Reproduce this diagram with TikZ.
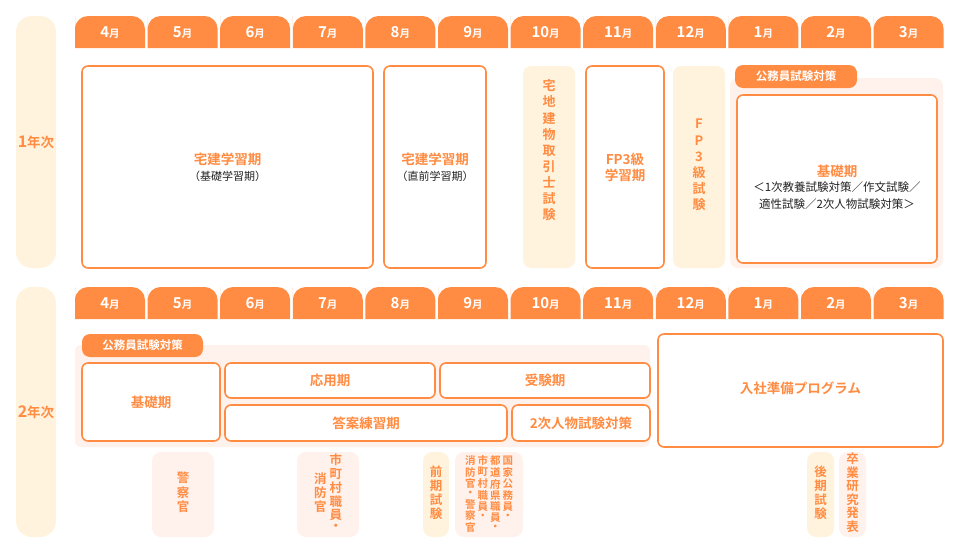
\documentclass[tikz,border=0pt]{standalone}
\usepackage{fontspec}
\setmainfont{Noto Sans CJK JP}[BoldFont={* Bold}]
\newfontfamily\jb{Noto Sans CJK JP Bold}
\definecolor{org}{HTML}{FF8C42}
\definecolor{pinkbg}{HTML}{FFF1EB}
\definecolor{yelbg}{HTML}{FFF3DD}
\definecolor{txt}{HTML}{222222}
\newcommand\vc[1]{\begin{tabular}[t]{@{}c@{}}#1\end{tabular}}
\newcommand\vcc[1]{\begin{tabular}[c]{@{}c@{}}#1\end{tabular}}
\newcommand\mon[1]{{\fontsize{15}{15}\selectfont #1}{\fontsize{10.5}{10.5}\selectfont 月}}
\tikzset{
  x=1pt,y=-1pt,
  box/.style={draw=org,line width=1.6pt,fill=white,rounded corners=6pt},
  ttl/.style={text=org,font=\jb\fontsize{13.5}{16}\selectfont,align=center},
  sub/.style={text=txt,font=\fontsize{11}{13}\selectfont,align=center},
  vt/.style={text=org,font=\jb\fontsize{13}{14}\selectfont,inner sep=0pt},
  mtxt/.style={text=white,font=\jb},
}
\begin{document}
\begin{tikzpicture}
\useasboundingbox (0,0) rectangle (961,554);
% year pills
\fill[yelbg,rounded corners=16pt] (16,16) rectangle (56,268);
\node[ttl] (y1) at (36,142) {{\fontsize{16}{16}\selectfont 1}年次};
\fill[yelbg,rounded corners=16pt] (16,287) rectangle (56,537);
\node[ttl] (y2) at (36,412) {{\fontsize{16}{16}\selectfont 2}年次};
% month tabs
\foreach \m [count=\i from 0] in {4,5,6,7,8,9,10,11,12,1,2,3}{
  \pgfmathsetmacro\xa{75+72.6*\i}
  \pgfmathsetmacro\xb{\xa+70}
  \fill[org] (\xa,16) [rounded corners=13pt] -- (\xa,34) |- (\xb,16) [sharp corners] |- (\xa,48) -- cycle;
  \fill[org] (\xa,287) [rounded corners=13pt] -- (\xa,305) |- (\xb,287) [sharp corners] |- (\xa,319) -- cycle;
  \node[mtxt] (ma\i) at ({\xa+35},32.5) {\mon{\m}};
  \node[mtxt] (mb\i) at ({\xa+35},303.5) {\mon{\m}};
}
% row 1
\draw[box] (82,66) rectangle (373,268);
\node[ttl] (t1) at (227.5,159) {宅建学習期};
\node[sub] (t1s) at (227.5,176) {（基礎学習期）};
\draw[box] (384,66) rectangle (486,268);
\node[ttl] (t2) at (435,159) {宅建学習期};
\node[sub] (t2s) at (435,176) {（直前学習期）};
\fill[yelbg,rounded corners=8pt] (523,66) rectangle (575,268);
\node[vt] (tk) at (549,152) {\renewcommand\arraystretch{1.15}\vcc{宅\\地\\建\\物\\取\\引\\士\\試\\験}};
\draw[box] (586,66) rectangle (664,268);
\node[ttl] (fp) at (625,167) {FP3級\\学習期};
\fill[yelbg,rounded corners=8pt] (673,66) rectangle (725,268);
\node[vt] (fpx) at (699,166) {\renewcommand\arraystretch{1.15}\vcc{F\\P\\3\\級\\試\\験}};
\fill[pinkbg,rounded corners=8pt] (730,78) rectangle (943,268);
\fill[org,rounded corners=8pt] (735,65) rectangle (857,88);
\node[mtxt,font=\jb\fontsize{11.5}{13}\selectfont] (k1) at (796,76.5) {公務員試験対策};
\draw[box] (737,95) rectangle (937,263);
\node[ttl] (kk) at (837,171) {基礎期};
\node[sub,font=\fontsize{11.5}{17}\selectfont] (kks) at (837,196) {＜1次教養試験対策／作文試験／\\適性試験／2次人物試験対策＞};
% row 2
\fill[pinkbg,rounded corners=6pt] (75,345) rectangle (650,447);
\fill[org,rounded corners=8pt] (82,334) rectangle (203,357);
\node[mtxt,font=\jb\fontsize{11.5}{13}\selectfont] (k2) at (142.5,345.5) {公務員試験対策};
\draw[box] (82,363) rectangle (220,441);
\node[ttl] (b1) at (151,402) {基礎期};
\draw[box] (225,363) rectangle (435,398);
\node[ttl] (b2) at (330,380.5) {応用期};
\draw[box] (440,363) rectangle (650,398);
\node[ttl] (b3) at (545,380.5) {受験期};
\draw[box] (225,405) rectangle (507,441);
\node[ttl] (b4) at (366,423) {答案練習期};
\draw[box] (512,405) rectangle (650,441);
\node[ttl] (b5) at (581,423) {2次人物試験対策};
\draw[box] (658,334) rectangle (943,447);
\node[ttl] (b6) at (800.5,388) {入社準備プログラム};
% bottom pills
\tikzset{vs/.style={vt,font=\jb\fontsize{12.5}{13}\selectfont}}
\fill[pinkbg,rounded corners=9pt] (152,452) rectangle (214,537);
\node[vs] (p1) at (183,494) {\vcc{警\\察\\官}};
\fill[pinkbg,rounded corners=9pt] (297,452) rectangle (359,537);
\node[vs] (p2) at (328,494) {\renewcommand\arraystretch{0.85}\vcc{消\\防\\官}\hspace{3pt}\vcc{市\\町\\村\\職\\員\\・}};
\fill[yelbg,rounded corners=9pt] (423,452) rectangle (449,537);
\node[vs] (p3) at (436,494) {\renewcommand\arraystretch{0.85}\vcc{前\\期\\試\\験}};
\fill[pinkbg,rounded corners=9pt] (455,452) rectangle (523,537);
\node[vt,font=\jb\fontsize{10.5}{11}\selectfont] (p4) at (489,495) {\renewcommand\arraystretch{0.8}\vc{消\\防\\官\\・\\警\\察\\官}\hspace{2pt}\vc{市\\町\\村\\職\\員\\・}\hspace{2pt}\vc{都\\道\\府\\県\\職\\員\\・}\hspace{2pt}\vc{国\\家\\公\\務\\員\\・}};
\fill[yelbg,rounded corners=9pt] (807,452) rectangle (834,537);
\node[vs] (p5) at (820.5,494) {\renewcommand\arraystretch{0.85}\vcc{後\\期\\試\\験}};
\fill[pinkbg,rounded corners=9pt] (839,452) rectangle (866,537);
\node[vs] (p6) at (852.5,494) {\renewcommand\arraystretch{0.78}\vcc{卒\\業\\研\\究\\発\\表}};
\end{tikzpicture}
\end{document}
